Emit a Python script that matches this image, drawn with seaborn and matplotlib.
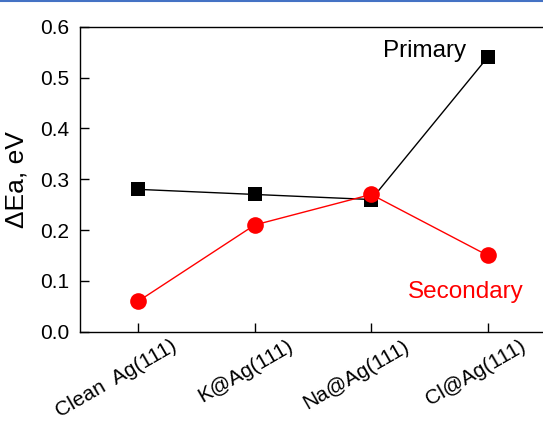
import matplotlib
matplotlib.use("Agg")
import matplotlib.pyplot as plt
import matplotlib.transforms as mtransforms
from matplotlib.lines import Line2D
import pandas as pd
import seaborn as sns

surfaces = ["Clean  Ag(111)", "K@Ag(111)", "Na@Ag(111)", "Cl@Ag(111)"]
primary = [0.28, 0.27, 0.26, 0.54]
secondary = [0.06, 0.21, 0.27, 0.15]
yticks = [0.0, 0.1, 0.2, 0.3, 0.4, 0.5, 0.6]

df = pd.DataFrame({"x": range(len(surfaces)), "Primary": primary, "Secondary": secondary})

sns.set_theme(style="ticks")
plt.rcParams["font.family"] = ["Liberation Sans", "DejaVu Sans"]

fig = plt.figure(figsize=(5.43, 4.21), dpi=100)
# right spine falls just past the picture's edge, as in the original crop
ax = fig.add_axes([80 / 543, 1 - 331.7 / 421, 466 / 543, 305 / 421])

sns.lineplot(data=df, x="x", y="Primary", ax=ax, color="black", lw=1,
             marker="s", markersize=10, markeredgewidth=0, zorder=3)
sns.lineplot(data=df, x="x", y="Secondary", ax=ax, color="red", lw=1,
             marker="o", markersize=12, markeredgewidth=0, zorder=4)

ax.set_xlim(-0.5, 3.5)
ax.set_ylim(0, 0.6)
ax.set_yticks(yticks)
ax.set_yticklabels([f"{v:.1f}" for v in yticks])
ax.set_xticks(range(len(surfaces)))
ax.set_xticklabels(surfaces, rotation=30, ha="right", va="top", rotation_mode="anchor")
ax.tick_params(direction="in", length=6.5, width=1, labelsize=15, color="black",
               labelcolor="black")
ax.tick_params(axis="y", pad=8)
ax.tick_params(axis="x", pad=3.5, labelsize=15)
shift = mtransforms.ScaledTranslation(32 / 100, 0, fig.dpi_scale_trans)
for lbl in ax.get_xticklabels():
    lbl.set_transform(lbl.get_transform() + shift)
for side in ["left", "bottom", "top"]:
    ax.spines[side].set_color("black")
    ax.spines[side].set_linewidth(1)
ax.spines["right"].set_visible(False)
ax.set_xlabel("")
ax.set_ylabel("ΔEa, eV", fontsize=19, color="black", labelpad=8)

ax.text(2.10, 0.540, "Primary", fontsize=17.5, color="black", ha="left", va="baseline")
ax.text(2.318, 0.066, "Secondary", fontsize=17.5, color="red", ha="left", va="baseline")

fig.add_artist(Line2D([0, 1], [0.998, 0.998], transform=fig.transFigure,
                      color="#4472c4", lw=1.5))

fig.savefig("out.png", dpi=100)
